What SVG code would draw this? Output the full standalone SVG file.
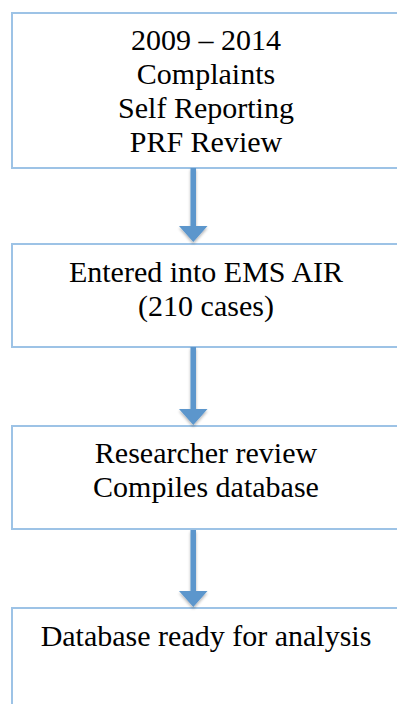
<svg xmlns="http://www.w3.org/2000/svg" width="397" height="704" viewBox="0 0 397 704">
<style>
.box{fill:#fff;stroke:#9DC3E6;stroke-width:2}
.t{font-family:"Liberation Serif","Times New Roman",serif;font-size:30px;fill:#000;text-anchor:middle}
.arr{fill:#5B96CC}
</style>
<defs>
<filter id="sh" x="-30%" y="-30%" width="160%" height="160%">
<feGaussianBlur in="SourceAlpha" stdDeviation="1.5"/>
<feOffset dx="0" dy="2" result="b"/>
<feComponentTransfer><feFuncA type="linear" slope="0.3"/></feComponentTransfer>
<feMerge><feMergeNode/><feMergeNode in="SourceGraphic"/></feMerge>
</filter>
</defs>
<rect width="397" height="704" fill="#fff"/>
<g id="n1">
<rect class="box" x="12" y="13" width="400" height="155"/>
<text class="t" x="206" y="50">2009 – 2014</text>
<text class="t" x="206" y="84">Complaints</text>
<text class="t" x="206" y="118">Self Reporting</text>
<text class="t" x="206" y="152">PRF Review</text>
</g>
<g id="n2">
<rect class="box" x="12" y="244" width="400" height="103"/>
<text class="t" x="206" y="282">Entered into EMS AIR</text>
<text class="t" x="206" y="316">(210 cases)</text>
</g>
<g id="n3">
<rect class="box" x="12" y="426" width="400" height="103"/>
<text class="t" x="206" y="463">Researcher review</text>
<text class="t" x="206" y="497">Compiles database</text>
</g>
<g id="n4">
<rect class="box" x="12" y="608" width="400" height="110"/>
<text class="t" x="206" y="646">Database ready for analysis</text>
</g>
<g id="connectors" class="arr" filter="url(#sh)">
<path d="M190.5 168 H196 V226 H207.5 L193.3 242 L179 226 H190.5 Z"/>
<path d="M190.5 347 H196 V409 H207.5 L193.3 425 L179 409 H190.5 Z"/>
<path d="M190.5 530 H196 V591 H207.5 L193.3 607 L179 591 H190.5 Z"/>
</g>
</svg>
